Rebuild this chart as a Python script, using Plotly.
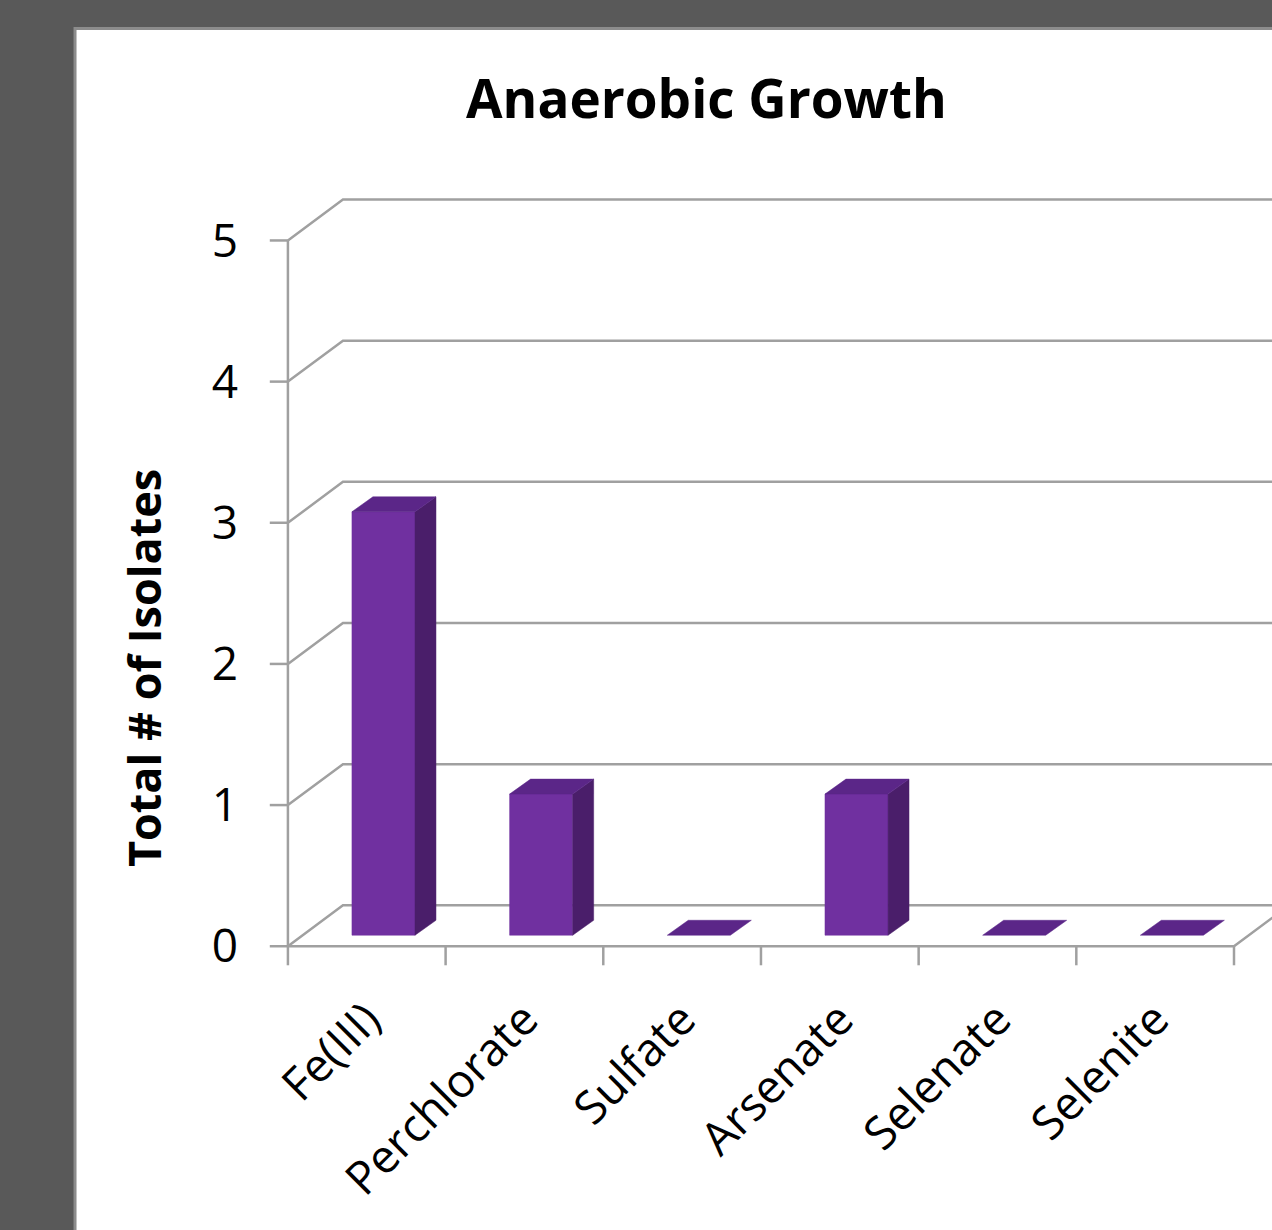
import plotly.graph_objects as go

categories = ["Fe(III)", "Perchlorate", "Sulfate", "Arsenate", "Selenate", "Selenite"]
values = [3, 1, 0, 1, 0, 0]
y_ticks = [0, 1, 2, 3, 4, 5]

FRONT = "#7030A0"
SIDE = "#4A1E6A"
TOP = "#5B2688"
GRID = "#A0A0A0"

# 3D geometry (data units)
WALL_DX, WALL_DY = 0.349, 0.290   # depth of the back wall
BAR_E = 0.078                     # bars stand slightly behind the front edge
BAR_OFF, BAR_W = 0.406, 0.40
BAR_DX, BAR_DY = 0.133, 0.106
X_MAX = 6.241

fig = go.Figure()

def line(xs, ys, color=GRID, width=2.5):
    fig.add_trace(go.Scatter(x=xs, y=ys, mode="lines", line=dict(color=color, width=width),
                             hoverinfo="skip", showlegend=False))

def poly(xs, ys, color):
    fig.add_trace(go.Scatter(x=xs + [xs[0]], y=ys + [ys[0]], mode="lines", fill="toself",
                             fillcolor=color, line=dict(color=color, width=0.5),
                             hoverinfo="skip", showlegend=False))

n = len(categories)
# walls / gridlines
for v in y_ticks:
    line([0, WALL_DX, X_MAX + 1], [v, v + WALL_DY, v + WALL_DY])
    line([-0.115, 0], [v, v])  # y tick marks
line([0, 0], [0, y_ticks[-1]])
line([0, n, n + WALL_DX], [0, 0, WALL_DY])
for k in range(n + 1):
    line([k, k], [0, -0.135])  # x tick marks

# bars
for i, v in enumerate(values):
    x0 = i + BAR_OFF
    x1 = x0 + BAR_W
    if v > 0:
        poly([x0, x1, x1, x0], [BAR_E, BAR_E, BAR_E + v, BAR_E + v], FRONT)
        poly([x1, x1 + BAR_DX, x1 + BAR_DX, x1],
             [BAR_E, BAR_E + BAR_DY, BAR_E + v + BAR_DY, BAR_E + v], SIDE)
    poly([x0, x1, x1 + BAR_DX, x0 + BAR_DX],
         [BAR_E + v, BAR_E + v, BAR_E + v + BAR_DY, BAR_E + v + BAR_DY], TOP)

fig.update_layout(
    width=1272, height=1230,
    margin=dict(l=269, r=0, t=184, b=264, pad=0),
    paper_bgcolor="#595959",
    plot_bgcolor="rgba(0,0,0,0)",
    font=dict(family="Open Sans, Lato, sans-serif", color="#000000"),
    xaxis=dict(range=[-0.12, X_MAX], tickvals=[i + 0.5 for i in range(n)], ticktext=categories,
               tickangle=-45, ticks="", showline=False, showgrid=False, zeroline=False,
               tickfont=dict(size=46), ticklabelstandoff=16, fixedrange=True),
    yaxis=dict(range=[-0.14, 5.4], tickvals=y_ticks, ticktext=[str(t) for t in y_ticks],
               ticks="", showline=False, showgrid=False, zeroline=False,
               tickfont=dict(size=46), ticklabelstandoff=30, fixedrange=True),
    shapes=[dict(type="rect", xref="paper", yref="paper", x0=-0.1934, x1=1.05, y0=-0.5, y1=1.1988,
                 fillcolor="white", line=dict(color="#8C8C8C", width=3), layer="below")],
    annotations=[
        dict(text="<b>Anaerobic Growth</b>", xref="paper", yref="paper", x=0.4357, y=1.111,
             xanchor="center", yanchor="middle", showarrow=False, font=dict(size=53)),
        dict(text="<b>Total # of Isolates</b>", xref="paper", yref="paper", x=-0.1256, y=0.381,
             xanchor="center", yanchor="middle", textangle=-90, showarrow=False, font=dict(size=45)),
    ],
)

fig.write_html("out.html")
